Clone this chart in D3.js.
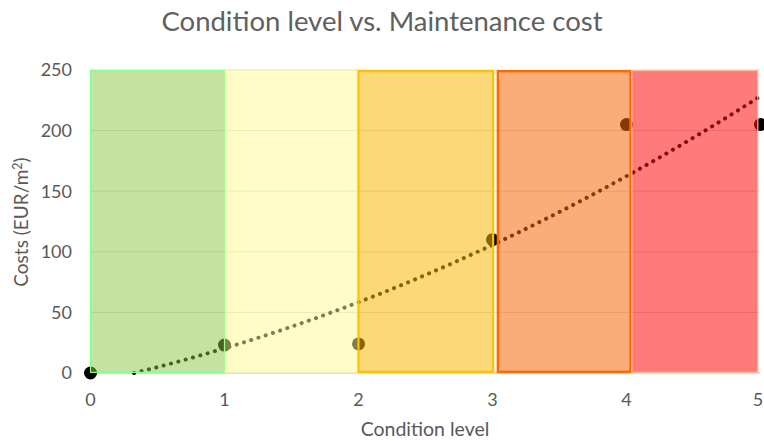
<!DOCTYPE html>
<html>
<head>
<meta charset="utf-8">
<script src="https://cdn.jsdelivr.net/npm/d3@7"></script>
<style>
  body { margin: 0; background: #fff; }
  svg { display: block; font-family: Lato, "Open Sans", sans-serif; }
</style>
</head>
<body>
<svg id="chart" width="764" height="441"></svg>
<script>
// Measured maintenance cost per condition level
const conditionLevels = [0, 1, 2, 3, 4, 5];
const costs = [0, 23, 24, 110, 205, 205];

// Axis ticks
const xTicks = [0, 1, 2, 3, 4, 5];
const yTicks = [0, 50, 100, 150, 200, 250];

// Condition bands (start, end on the condition axis)
const bandStart = [0, 1, 2, 3.04, 4.04];
const bandEnd   = [1, 2, 3.005, 4.03, 4.98];
const bandFill  = ["#8bc741", "#fff991", "#f9b80a", "#fa680a", "#ff0d0d"];
const bandStroke = ["#85ff85", "none", "#ffc000", "#ff6a00", "#ffb89a"];
const bandStrokeWidth = [1.2, 0, 2.2, 2.4, 1.2];

const svg = d3.select("#chart");
const W = 764, H = 441;
const m = { left: 90.5, right: 4, top: 70, bottom: 68 };

const x = d3.scaleLinear().domain([0, 5]).range([m.left, m.left + 134 * 5]);
const y = d3.scaleLinear().domain([0, 250]).range([H - m.bottom, m.top]);

const gray = "#595959";

// Title
svg.append("text")
  .attr("x", 382).attr("y", 31)
  .attr("text-anchor", "middle")
  .attr("font-size", 27.5)
  .attr("fill", "#606060")
  .text("Condition level vs. Maintenance cost");

// Horizontal gridlines
svg.append("g")
  .selectAll("line")
  .data(yTicks)
  .join("line")
  .attr("x1", x(0)).attr("x2", x(5))
  .attr("y1", d => y(d)).attr("y2", d => y(d))
  .attr("stroke", d => d === 0 ? "#bfbfbf" : "#d9d9d9")
  .attr("stroke-width", 1);

// Second order polynomial trendline (least squares)
function polyFit2(xs, ys) {
  const n = xs.length;
  let s = [0, 0, 0, 0, 0], t = [0, 0, 0];
  for (let i = 0; i < n; i++) {
    for (let k = 0; k <= 4; k++) s[k] += Math.pow(xs[i], k);
    for (let k = 0; k <= 2; k++) t[k] += Math.pow(xs[i], k) * ys[i];
  }
  const A = [[s[0], s[1], s[2], t[0]], [s[1], s[2], s[3], t[1]], [s[2], s[3], s[4], t[2]]];
  for (let i = 0; i < 3; i++) {
    for (let j = i + 1; j < 3; j++) {
      const f = A[j][i] / A[i][i];
      for (let k = i; k < 4; k++) A[j][k] -= f * A[i][k];
    }
  }
  const c = [0, 0, 0];
  for (let i = 2; i >= 0; i--) {
    let v = A[i][3];
    for (let k = i + 1; k < 3; k++) v -= A[i][k] * c[k];
    c[i] = v / A[i][i];
  }
  return c; // c0 + c1 x + c2 x^2
}
const coef = polyFit2(conditionLevels, costs);
const trendY = t => coef[0] + coef[1] * t + coef[2] * t * t;
const x0 = (-coef[1] + Math.sqrt(coef[1] * coef[1] - 4 * coef[2] * coef[0])) / (2 * coef[2]);
const trendPts = d3.range(0, 201).map(i => x0 + (5 - x0) * i / 200);

svg.append("path")
  .datum(trendPts)
  .attr("d", d3.line().x(t => x(t)).y(t => y(trendY(t))))
  .attr("fill", "none")
  .attr("stroke", "#000")
  .attr("stroke-width", 4)
  .attr("stroke-linecap", "round")
  .attr("stroke-dasharray", "0.1 7.5");

// Data points
svg.append("g")
  .selectAll("circle")
  .data(conditionLevels.map((c, i) => [c, costs[i]]))
  .join("circle")
  .attr("cx", d => x(d[0]))
  .attr("cy", d => y(d[1]))
  .attr("r", 6.5)
  .attr("fill", "#000");

// Semi-transparent condition bands over the data
svg.append("g")
  .selectAll("rect")
  .data(bandStart.map((s, i) => i))
  .join("rect")
  .attr("x", i => x(bandStart[i]))
  .attr("y", i => y(250) + bandStrokeWidth[i] / 2)
  .attr("width", i => x(bandEnd[i]) - x(bandStart[i]))
  .attr("height", i => y(0) - y(250) - bandStrokeWidth[i])
  .attr("fill", i => bandFill[i])
  .attr("fill-opacity", i => i < 2 ? 0.5 : 0.55)
  .attr("stroke", i => bandStroke[i])
  .attr("stroke-width", i => bandStrokeWidth[i]);

// Y axis labels
svg.append("g")
  .selectAll("text")
  .data(yTicks)
  .join("text")
  .attr("x", 72).attr("y", d => y(d))
  .attr("dy", "0.36em")
  .attr("text-anchor", "end")
  .attr("font-size", 18)
  .attr("fill", gray)
  .text(d => d);

// X axis labels (the last one is kept inside the canvas edge)
svg.append("g")
  .selectAll("text")
  .data(xTicks)
  .join("text")
  .attr("x", d => Math.min(x(d), W - 6))
  .attr("y", 400)
  .attr("dy", "0.36em")
  .attr("text-anchor", "middle")
  .attr("font-size", 18)
  .attr("fill", gray)
  .text(d => d);

// Axis titles
svg.append("text")
  .attr("x", 425).attr("y", 436)
  .attr("text-anchor", "middle")
  .attr("font-size", 19.5)
  .attr("fill", gray)
  .text("Condition level");

const yt = svg.append("text")
  .attr("transform", "translate(28,222) rotate(-90)")
  .attr("text-anchor", "middle")
  .attr("font-size", 19)
  .attr("fill", gray);
yt.append("tspan").text("Costs (EUR/m");
yt.append("tspan").attr("font-size", 12.5).attr("dy", -6.5).text("2");
yt.append("tspan").attr("dy", 6.5).text(")");
</script>
</body>
</html>
